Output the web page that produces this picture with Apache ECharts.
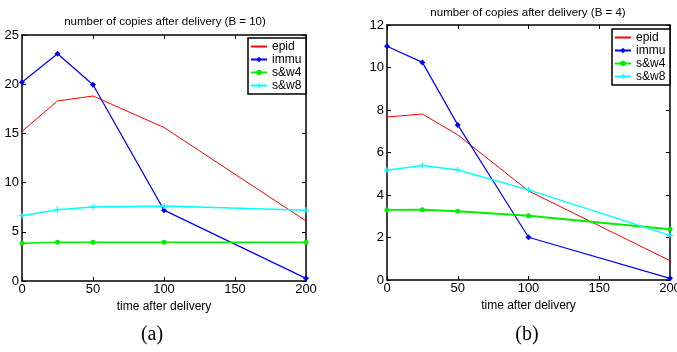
<!DOCTYPE html>
<html>
<head>
<meta charset="utf-8">
<script src="https://cdn.jsdelivr.net/npm/echarts@6/dist/echarts.min.js"></script>
<style>
  html, body { margin: 0; padding: 0; background: #fff; }
  #chart { width: 677px; height: 352px; }
</style>
</head>
<body>
<div id="chart"></div>
<script>
const times = [0, 25, 50, 100, 200];
const xTicks = [0, 50, 100, 150, 200];
const legendNames = ["epid", "immu", "s&w4", "s&w8"];

// (a) B = 10
const epidA = [15.2, 18.3, 18.8, 15.6, 6.1];
const immuA = [20.2, 23.1, 19.95, 7.2, 0.27];
const sw4A = [3.83, 3.93, 3.93, 3.93, 3.93];
const sw8A = [6.64, 7.25, 7.52, 7.62, 7.2];

// (b) B = 4
const epidB = [7.67, 7.81, 6.83, 4.19, 0.91];
const immuB = [11.0, 10.24, 7.3, 2.01, 0.08];
const sw4B = [3.3, 3.31, 3.24, 3.02, 2.39];
const sw8B = [5.17, 5.39, 5.18, 4.24, 2.1];

const font = "Liberation Sans, Arial, sans-serif";
const pairs = (ys) => times.map((t, i) => [t, ys[i]]);

function seriesFor(idx, epid, immu, sw4, sw8, greenWidth) {
  return [
    { name: "epid", type: "line", xAxisIndex: idx * 2, yAxisIndex: idx * 2,
      data: pairs(epid), showSymbol: false, symbol: "none",
      lineStyle: { color: "#ff0000", width: 1 }, itemStyle: { color: "#ff0000" } },
    { name: "immu", type: "line", xAxisIndex: idx * 2, yAxisIndex: idx * 2,
      data: pairs(immu), symbol: "diamond", symbolSize: 6,
      lineStyle: { color: "#0000ff", width: 1.2 }, itemStyle: { color: "#0000ff" } },
    { name: "s&w4", type: "line", xAxisIndex: idx * 2, yAxisIndex: idx * 2,
      data: pairs(sw4), symbol: "circle", symbolSize: 5,
      lineStyle: { color: "#00ee00", width: greenWidth }, itemStyle: { color: "#00ee00" } },
    { name: "s&w8", type: "line", xAxisIndex: idx * 2, yAxisIndex: idx * 2,
      data: pairs(sw8), symbol: "path://M4,0H6V4H10V6H6V10H4V6H0V4H4Z", symbolSize: 6,
      lineStyle: { color: "#00ffff", width: 1.5 }, itemStyle: { color: "#00ffff" } }
  ];
}

const boxLine = { onZero: false, lineStyle: { color: "#000", width: 1.5 } };
const inTick = { show: true, inside: true, length: 4, lineStyle: { color: "#000" } };

function xAxesFor(idx) {
  return [
    { type: "value", gridIndex: idx, min: 0, max: 200, interval: 50,
      name: "time after delivery", nameLocation: "middle", nameGap: 11,
      nameTextStyle: { color: "#000", fontSize: 12, fontFamily: font },
      axisLine: boxLine, axisTick: inTick,
      axisLabel: { color: "#000", fontSize: 13, fontFamily: font, margin: 2,
        formatter: (v) => xTicks.includes(v) ? String(v) : "" },
      splitLine: { show: false } },
    { type: "value", gridIndex: idx, position: "top", min: 0, max: 200, interval: 50,
      axisLine: boxLine, axisTick: inTick,
      axisLabel: { show: false }, splitLine: { show: false } }
  ];
}

function yAxesFor(idx, max, interval) {
  return [
    { type: "value", gridIndex: idx, min: 0, max: max, interval: interval,
      axisLine: Object.assign({ show: true }, boxLine), axisTick: inTick,
      axisLabel: { color: "#000", fontSize: 13, fontFamily: font, margin: 3 },
      splitLine: { show: false } },
    { type: "value", gridIndex: idx, position: "right", min: 0, max: max, interval: interval,
      axisLine: Object.assign({ show: true }, boxLine), axisTick: inTick,
      axisLabel: { show: false }, splitLine: { show: false } }
  ];
}

const legendBase = {
  orient: "vertical",
  data: legendNames.map((n) => n === "epid" ? { name: n, itemStyle: { opacity: 0 } } : n),
  backgroundColor: "#fff", borderColor: "#000", borderWidth: 1.5,
  padding: [2, 3, 2, 2], itemGap: 0, itemWidth: 16, itemHeight: 7,
  textStyle: { color: "#000", fontSize: 12, lineHeight: 13, fontFamily: font,
    width: 31, overflow: "none" }
};

const titleStyle = { fontSize: 11.5, fontWeight: "normal", color: "#000", fontFamily: font };
const capStyle = { fontSize: 20, fontWeight: "normal", color: "#000",
  fontFamily: "Liberation Serif, Times New Roman, serif" };

const chart = echarts.init(document.getElementById("chart"), null, { renderer: "canvas" });
chart.setOption({
  animation: false,
  backgroundColor: "#fff",
  title: [
    { text: "number of copies after delivery (B = 10)", left: 165, top: 16, padding: 0,
      textAlign: "center", textStyle: titleStyle },
    { text: "number of copies after delivery (B = 4)", left: 528, top: 7, padding: 0,
      textAlign: "center", textStyle: titleStyle },
    { text: "(a)", left: 152, top: 325, padding: 0, textAlign: "center", textStyle: capStyle },
    { text: "(b)", left: 527, top: 325, padding: 0, textAlign: "center", textStyle: capStyle }
  ],
  legend: [
    Object.assign({}, legendBase, { left: 248, top: 38 }),
    Object.assign({}, legendBase, { left: 612, top: 29 })
  ],
  grid: [
    { left: 22, right: 371, top: 35, bottom: 71, outerBoundsMode: "none" },
    { left: 387, right: 7, top: 25, bottom: 72, outerBoundsMode: "none" }
  ],
  xAxis: [...xAxesFor(0), ...xAxesFor(1)],
  yAxis: [...yAxesFor(0, 25, 5), ...yAxesFor(1, 12, 2)],
  series: [
    ...seriesFor(0, epidA, immuA, sw4A, sw8A, 1.5),
    ...seriesFor(1, epidB, immuB, sw4B, sw8B, 2)
  ]
});
</script>
</body>
</html>
